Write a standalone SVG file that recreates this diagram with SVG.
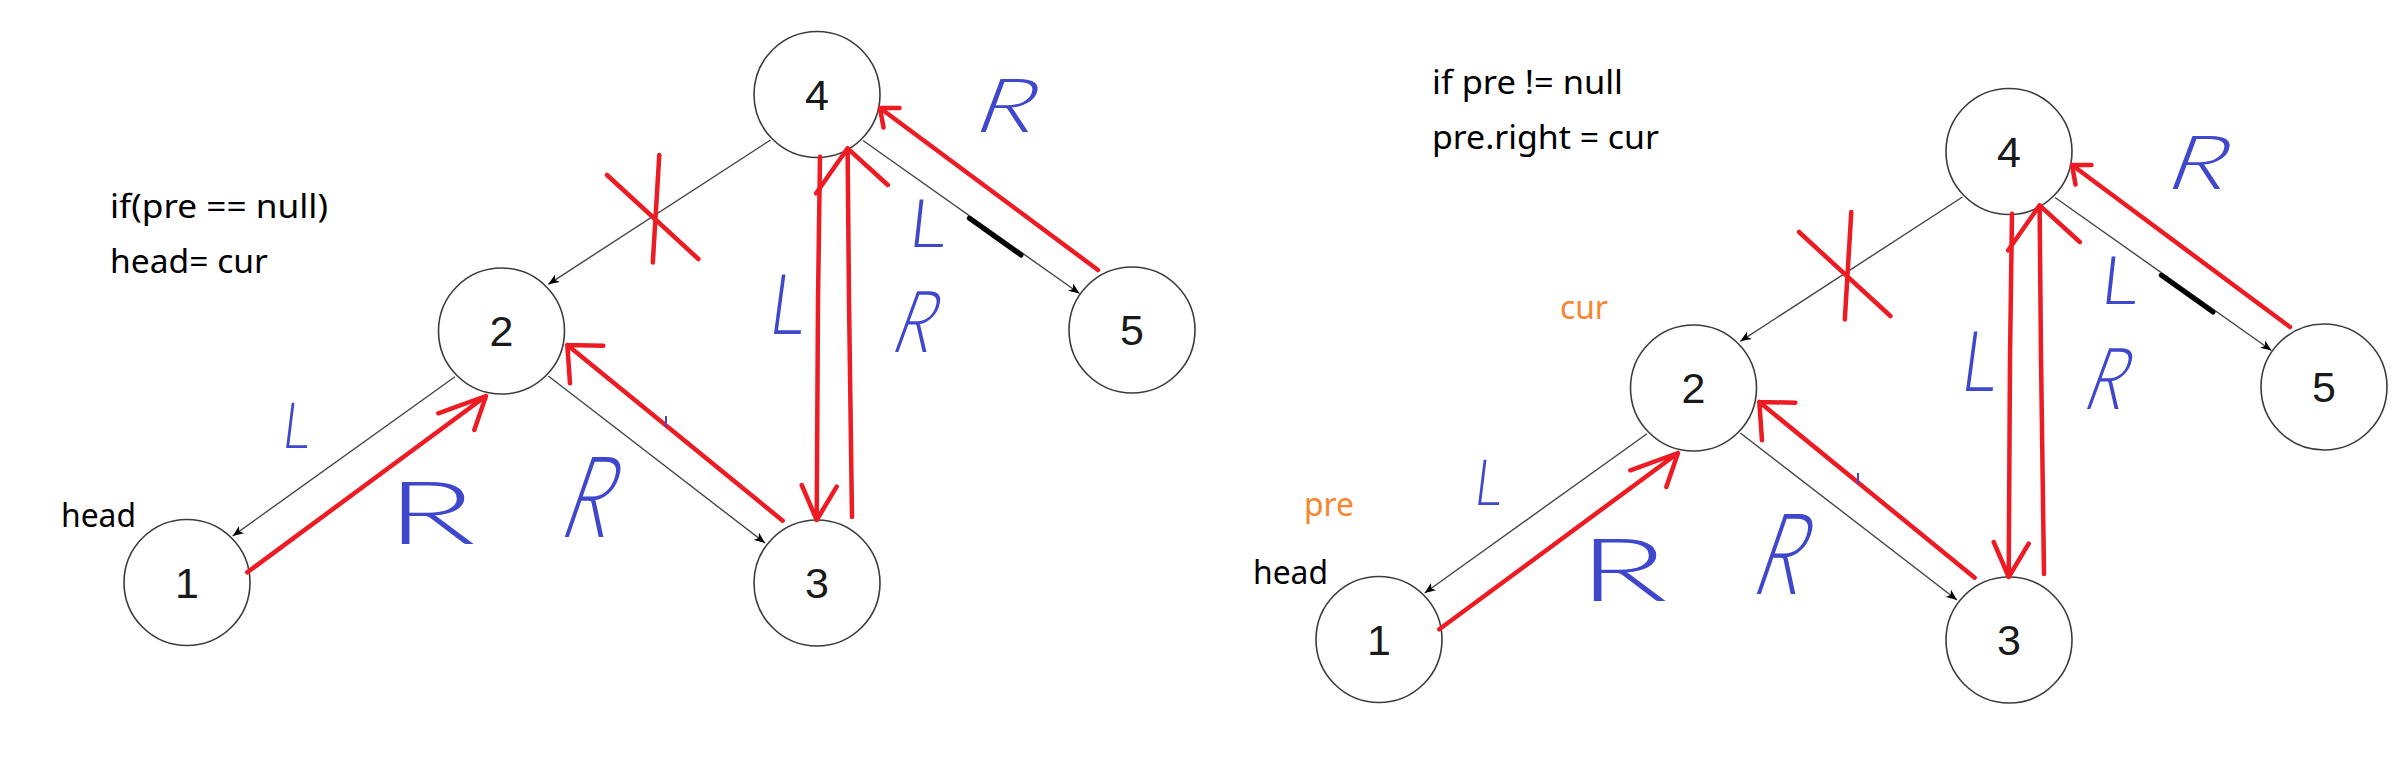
<svg xmlns="http://www.w3.org/2000/svg" width="2405" height="771" viewBox="0 0 2405 771">
<style>
.node circle{fill:#fff;stroke:#3c3c3c;stroke-width:1.6}
.node text{font-family:"Liberation Sans",Arial,sans-serif;font-size:43px;fill:#1a1a1a;text-anchor:middle}
.edge{stroke:#454545;stroke-width:1.4;fill:none;marker-end:url(#ah)}
.red{stroke:#ED1C24;stroke-width:4.5;fill:none;stroke-linecap:round;stroke-linejoin:round}
.blk{stroke:#000;stroke-width:5;fill:none;stroke-linecap:round}
.tick{stroke:#3F48CC;stroke-width:2;fill:none}
.pen{font-family:Lato,Roboto,"DejaVu Sans",sans-serif;font-weight:300;fill:#3F48CC}
.code{font-family:"Noto Sans","Open Sans",sans-serif;font-size:32px;fill:#000}
.org{fill:#F8852F}
</style>
<defs>
<marker id="ah" markerUnits="userSpaceOnUse" markerWidth="11" markerHeight="9" viewBox="0 0 11 9" refX="11" refY="4.5" orient="auto">
<path d="M0,0 L11,4.5 L0,9 L3,4.5 z" fill="#000"/>
</marker>
</defs>
<rect width="2405" height="771" fill="#fff"/>

<!-- LEFT DIAGRAM -->
<g id="left">
<text class="code" x="110" y="218" textLength="218" lengthAdjust="spacingAndGlyphs">if(pre == null)</text>
<text class="code" x="110" y="273" textLength="158" lengthAdjust="spacingAndGlyphs">head= cur</text>
<g id="left-connectors">
<line class="edge" x1="770.5" y1="140" x2="548.3" y2="284.3"/>
<line class="edge" x1="863" y1="140.5" x2="1079.5" y2="293.5"/>
<line class="edge" x1="455" y1="376.7" x2="232.7" y2="536"/>
<line class="edge" x1="548.3" y1="376" x2="765" y2="543"/>
</g>
<g id="left-node-4" class="node"><circle cx="817" cy="94.5" r="63"/><text x="817" y="109.9">4</text></g>
<g id="left-node-2" class="node"><circle cx="501.5" cy="331" r="63"/><text x="501.5" y="346.4">2</text></g>
<g id="left-node-5" class="node"><circle cx="1132" cy="330" r="63"/><text x="1132" y="345.4">5</text></g>
<g id="left-node-1" class="node"><circle cx="187" cy="582.5" r="63"/><text x="187" y="597.9">1</text></g>
<g id="left-node-3" class="node"><circle cx="817" cy="583" r="63"/><text x="817" y="598.4">3</text></g>
<text class="code" x="61" y="527" textLength="75" lengthAdjust="spacingAndGlyphs">head</text>
<g id="left-annotations">
<path class="red" d="M247.3,572.3 L486,396 M438.3,413.3 L486,396 L474.3,430"/>
<path class="red" d="M782.7,520.7 L567.3,345 M603.3,345.7 L567.3,345 L570,383.3"/>
<path class="red" d="M820,156.7 L818,300 L816.7,520 M801.7,485 L816.7,520 L836.7,486.7"/>
<path class="red" d="M852,517 L849,300 L847.6,148.3 M816.2,193.3 L847.6,148.3 L887.8,185"/>
<path class="red" d="M1098,270 L880,108 M899.5,108 L880,108 L883.5,127.5"/>
<path class="red" d="M607,175 L698.4,259 M659.3,155 L652.8,262.5"/>
<path class="blk" d="M969.3,218.3 L1021,255"/>
<path class="tick" d="M666,416 L666,427"/>
<text class="pen" font-size="64" transform="translate(280.4,448) skewX(-7) scale(0.84,1)">L</text>
<text class="pen" font-size="86.5" transform="translate(386.5,544) scale(1.7,1)">R</text>
<text class="pen" font-size="113" transform="translate(556.6,537) skewX(-19) scale(0.7,1)">R</text>
<text class="pen" font-size="84" transform="translate(766.8,334.3) skewX(-7.6) scale(0.82,1)">L</text>
<text class="pen" font-size="86" transform="translate(888.2,352) skewX(-20) scale(0.75,1)">R</text>
<text class="pen" font-size="67" transform="translate(906.8,247.3) skewX(-6.4) scale(1.09,1)">L</text>
<text class="pen" font-size="75" transform="translate(970.6,132) skewX(-20.5) scale(1.3,1)">R</text>
</g>
</g>

<!-- RIGHT DIAGRAM -->
<g id="right">
<text class="code" x="1432" y="94" textLength="191" lengthAdjust="spacingAndGlyphs">if pre != null</text>
<text class="code" x="1432" y="149" textLength="227" lengthAdjust="spacingAndGlyphs">pre.right = cur</text>
<text class="code org" x="1560" y="319" textLength="48" lengthAdjust="spacingAndGlyphs">cur</text>
<text class="code org" x="1304" y="516" textLength="50" lengthAdjust="spacingAndGlyphs">pre</text>
<g transform="translate(1192,57)">
<g id="right-connectors">
<line class="edge" x1="770.5" y1="140" x2="548.3" y2="284.3"/>
<line class="edge" x1="863" y1="140.5" x2="1079.5" y2="293.5"/>
<line class="edge" x1="455" y1="376.7" x2="232.7" y2="536"/>
<line class="edge" x1="548.3" y1="376" x2="765" y2="543"/>
</g>
<g id="right-node-4" class="node"><circle cx="817" cy="94.5" r="63"/><text x="817" y="109.9">4</text></g>
<g id="right-node-2" class="node"><circle cx="501.5" cy="331" r="63"/><text x="501.5" y="346.4">2</text></g>
<g id="right-node-5" class="node"><circle cx="1132" cy="330" r="63"/><text x="1132" y="345.4">5</text></g>
<g id="right-node-1" class="node"><circle cx="187" cy="582.5" r="63"/><text x="187" y="597.9">1</text></g>
<g id="right-node-3" class="node"><circle cx="817" cy="583" r="63"/><text x="817" y="598.4">3</text></g>
<text class="code" x="61" y="527" textLength="75" lengthAdjust="spacingAndGlyphs">head</text>
<g id="right-annotations">
<path class="red" d="M247.3,572.3 L486,396 M438.3,413.3 L486,396 L474.3,430"/>
<path class="red" d="M782.7,520.7 L567.3,345 M603.3,345.7 L567.3,345 L570,383.3"/>
<path class="red" d="M820,156.7 L818,300 L816.7,520 M801.7,485 L816.7,520 L836.7,486.7"/>
<path class="red" d="M852,517 L849,300 L847.6,148.3 M816.2,193.3 L847.6,148.3 L887.8,185"/>
<path class="red" d="M1098,270 L880,108 M899.5,108 L880,108 L883.5,127.5"/>
<path class="red" d="M607,175 L698.4,259 M659.3,155 L652.8,262.5"/>
<path class="blk" d="M969.3,218.3 L1021,255"/>
<path class="tick" d="M666,416 L666,427"/>
<text class="pen" font-size="64" transform="translate(280.4,448) skewX(-7) scale(0.84,1)">L</text>
<text class="pen" font-size="86.5" transform="translate(386.5,544) scale(1.7,1)">R</text>
<text class="pen" font-size="113" transform="translate(556.6,537) skewX(-19) scale(0.7,1)">R</text>
<text class="pen" font-size="84" transform="translate(766.8,334.3) skewX(-7.6) scale(0.82,1)">L</text>
<text class="pen" font-size="86" transform="translate(888.2,352) skewX(-20) scale(0.75,1)">R</text>
<text class="pen" font-size="67" transform="translate(906.8,247.3) skewX(-6.4) scale(1.09,1)">L</text>
<text class="pen" font-size="75" transform="translate(970.6,132) skewX(-20.5) scale(1.3,1)">R</text>
</g>
</g>
</g>
</svg>
